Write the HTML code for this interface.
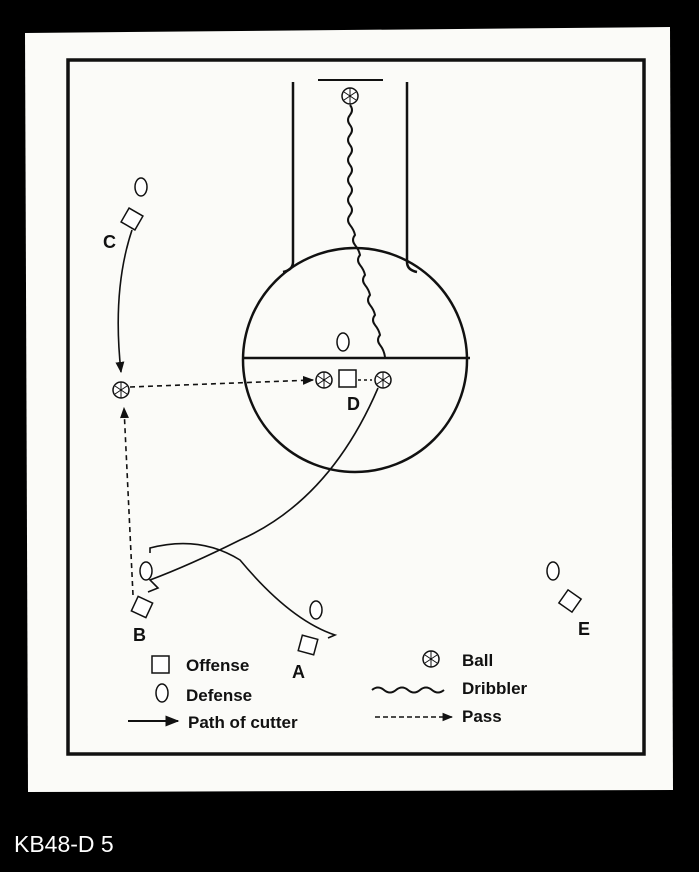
<!DOCTYPE html>
<html><head><style>
body{margin:0;background:#000;width:699px;height:867px;overflow:hidden;font-family:"Liberation Sans",sans-serif}
</style></head><body>
<svg width="699" height="867" viewBox="0 0 699 867" xmlns="http://www.w3.org/2000/svg">
<defs>
<marker id="ah" viewBox="0 0 10 10" refX="9" refY="5" markerWidth="7" markerHeight="7" orient="auto-start-reverse"><path d="M0,1 L10,5 L0,9 Z" fill="#111"/></marker>
<g id="ball"><circle r="8" fill="#fff" stroke="#111" stroke-width="1.5"/><path d="M-6,-4 L6,4 M-6,4 L6,-4 M0,-8 L0,8" stroke="#111" stroke-width="1"/></g>
</defs>
<polygon points="25,33 670,27 673,790 28,792" fill="#fbfbf8"/>
<rect x="68" y="60" width="576" height="694" fill="none" stroke="#111" stroke-width="3.5"/>
<g fill="none" stroke="#111" stroke-width="2.5">
<line x1="318" y1="80" x2="383" y2="80" stroke-width="2"/>
<path d="M293,82 L293,262 Q293,270 283,272"/>
<path d="M407,82 L407,262 Q407,270 417,272"/>
<circle cx="355" cy="360" r="112"/>
<line x1="243" y1="358" x2="470" y2="358"/>
</g>
<path d="M350,105 q4,5 0,10 q-4,5 0,10 q4,5 0,10 q-4,5 0,10 q4,5 0,10 q-4,5 0,10 q4,5 0,10 q-4,5 0,10 q4,5 0,10 q-4,5 0,10 q4,5 0,10 q-4,5 0,10 q4,5 5,10 q-4,5 0,10 q4,5 5,10 q-4,5 0,10 q4,5 5,10 q-4,5 0,10 q4,5 5,10 q-4,5 0,10 q4,5 5,10 q-4,5 0,10 q4,5 5,10 q-4,5 0,10 q4,5 5,12" fill="none" stroke="#111" stroke-width="2"/>
<use href="#ball" x="350" y="96"/>
<g fill="none" stroke="#111" stroke-width="1.6">
<path d="M132,230 Q112,290 121,372" marker-end="url(#ah)"/>
<line x1="130" y1="387" x2="313" y2="380" stroke-dasharray="5,4" marker-end="url(#ah)"/>
<line x1="358" y1="380" x2="372" y2="380" stroke-dasharray="3,3"/>
<line x1="133" y1="595" x2="124" y2="408" stroke-dasharray="5,4" marker-end="url(#ah)"/>
<path d="M378,388 Q330,500 240,540 Q190,565 150,580 L158,588 L148,592"/>
<path d="M150,553 L150,548 Q200,535 240,560 Q290,620 335,635 L328,638"/>
</g>
<use href="#ball" x="121" y="390"/>
<use href="#ball" x="324" y="380"/>
<use href="#ball" x="383" y="380"/>
<g fill="#fff" stroke="#111" stroke-width="1.5">
<rect x="339" y="370" width="17" height="17"/>
<rect x="-8" y="-8" width="16" height="16" transform="translate(132,219) rotate(30)"/>
<rect x="-8" y="-8" width="16" height="16" transform="translate(142,607) rotate(25)"/>
<rect x="-8" y="-8" width="16" height="16" transform="translate(308,645) rotate(15)"/>
<rect x="-8" y="-8" width="16" height="16" transform="translate(570,601) rotate(35)"/>
<ellipse cx="141" cy="187" rx="6" ry="9"/>
<ellipse cx="343" cy="342" rx="6" ry="9"/>
<ellipse cx="146" cy="571" rx="6" ry="9"/>
<ellipse cx="316" cy="610" rx="6" ry="9"/>
<ellipse cx="553" cy="571" rx="6" ry="9"/>
<rect x="152" y="656" width="17" height="17"/>
<ellipse cx="162" cy="693" rx="6" ry="9"/>
</g>
<g font-weight="bold" font-size="18" fill="#111">
<text x="103" y="248">C</text>
<text x="347" y="410">D</text>
<text x="133" y="641">B</text>
<text x="292" y="678">A</text>
<text x="578" y="635">E</text>
</g>
<g font-weight="bold" font-size="17" fill="#111">
<text x="186" y="671">Offense</text>
<text x="186" y="701">Defense</text>
<text x="188" y="728">Path of cutter</text>
<text x="462" y="666">Ball</text>
<text x="462" y="694">Dribbler</text>
<text x="462" y="722">Pass</text>
</g>
<line x1="128" y1="721" x2="178" y2="721" stroke="#111" stroke-width="2" marker-end="url(#ah)"/>
<line x1="375" y1="717" x2="452" y2="717" stroke="#111" stroke-width="1.5" stroke-dasharray="5,3" marker-end="url(#ah)"/>
<path d="M372,690 q6,-5 12,0 q6,5 12,0 q6,-5 12,0 q6,5 12,0 q6,-5 12,0 q6,5 12,0" fill="none" stroke="#111" stroke-width="2"/>
<use href="#ball" x="431" y="659"/>
<text x="14" y="852" font-size="23" fill="#fff">KB48-D 5</text>
</svg>
</body></html>
